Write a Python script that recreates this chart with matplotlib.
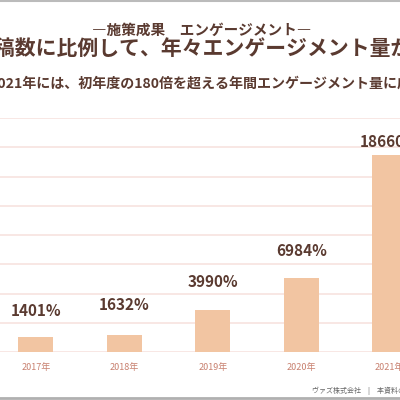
import matplotlib
matplotlib.use("Agg")
import matplotlib.pyplot as plt
import numpy as np
from matplotlib.lines import Line2D

plt.rcParams['font.family'] = ['Noto Sans CJK JP', 'DejaVu Sans']

years = ["2017年", "2018年", "2019年", "2020年", "2021年"]
values = [1401, 1632, 3990, 6984, 18660]
value_labels = ["1401%", "1632%", "3990%", "6984%", "18660%"]

title_small = "―施策成果　エンゲージメント―"
title_main = "投稿数に比例して、年々エンゲージメント量が増加"
subtitle = "2021年には、初年度の180倍を超える年間エンゲージメント量に成長"
footer = "ヴァズ株式会社　|　本資料の無断転載を禁じます"

# label offset above bar top (px)
label_offsets = [26, 30, 28, 27, 13]

brown = "#5a3a30"
bar_color = "#f2c5a2"
grid_color = "#f6e0dd"
tick_color = "#c8806f"

fig = plt.figure(figsize=(4, 4), dpi=100)
ax = fig.add_axes([-8.5 / 400, 48 / 400, 442.5 / 400, 234 / 400])

x = np.arange(len(years))
ax.bar(x, values, width=0.4, color=bar_color, zorder=2)
ax.set_xlim(-0.5, 4.5)
ymax = 22200
ax.set_ylim(0, ymax)
ax.set_yticks(np.linspace(0, ymax, 9))
ax.yaxis.grid(True, color=grid_color, linewidth=1.1)
ax.set_axisbelow(True)
ax.tick_params(axis='y', left=False, labelleft=False)
ax.tick_params(axis='x', length=0, pad=8, labelsize=6.5, labelcolor=tick_color)
ax.set_xticks(x)
ax.set_xticklabels(years)
for s in ax.spines.values():
    s.set_visible(False)

for xi, v, lab, off in zip(x, values, value_labels, label_offsets):
    ax.annotate(lab, (xi, v), xytext=(0, off * 0.72), textcoords="offset points",
                ha="center", va="center", fontsize=11, fontweight="bold",
                color=brown, annotation_clip=False)

fig.text(202 / 400, 1 - 30 / 400, title_small, ha="center", va="center",
         fontsize=10.5, fontweight="bold", color=brown)
fig.text(-26 / 400, 1 - 49 / 400, title_main, ha="left", va="center",
         fontsize=15, fontweight="bold", color=brown)
fig.text(-11 / 400, 1 - 84 / 400, subtitle, ha="left", va="center",
         fontsize=10.1, fontweight="bold", color=brown)
fig.text(312 / 400, 1 - 391 / 400, footer, ha="left", va="center",
         fontsize=5, color="#666666")

fig.add_artist(Line2D([0, 1], [1 - 0.5 / 400, 1 - 0.5 / 400], color="#bbbbbb", linewidth=1.5))
fig.add_artist(Line2D([0, 1], [1 - 398 / 400, 1 - 398 / 400], color="#b0b0b0", linewidth=2))

fig.savefig("out.png", dpi=100)
